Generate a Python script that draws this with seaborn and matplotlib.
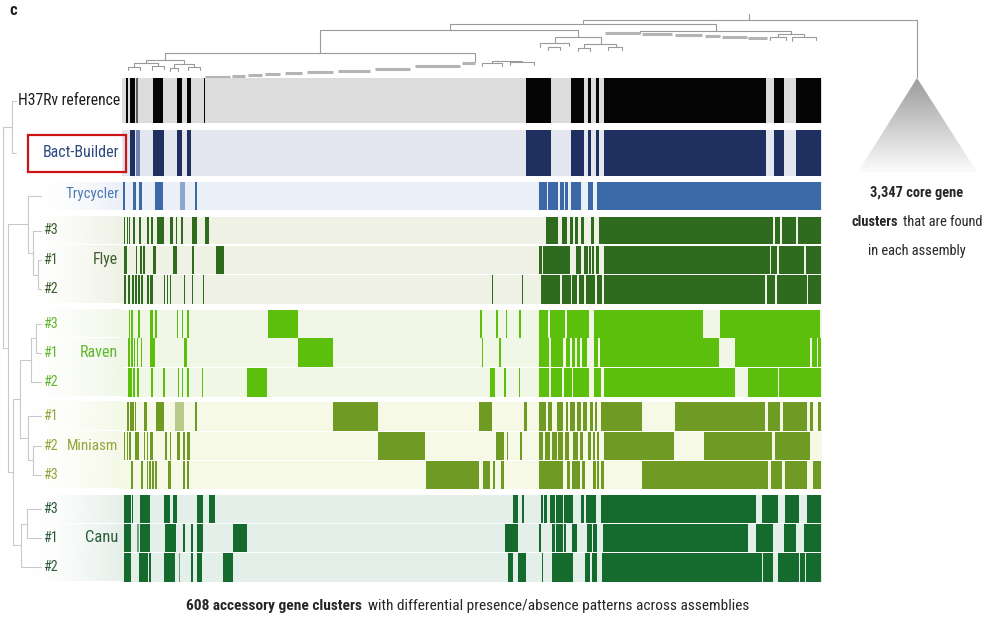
import numpy as np
import pandas as pd
import matplotlib
matplotlib.use("Agg")
import matplotlib.pyplot as plt
import seaborn as sns
from matplotlib.colors import ListedColormap, LinearSegmentedColormap, to_rgb
from matplotlib.patches import Rectangle, Polygon
from matplotlib import font_manager

# ------------------------------------------------------------------ data
N_CLUSTERS = 700  # accessory gene cluster columns (ordered as in the tree)

row_names = ["H37Rv reference", "Bact-Builder", "Trycycler",
             "Flye #3", "Flye #1", "Flye #2",
             "Raven #3", "Raven #1", "Raven #2",
             "Miniasm #1", "Miniasm #2", "Miniasm #3",
             "Canu #3", "Canu #1", "Canu #2"]
row_groups = (["H37Rv", "Bact-Builder", "Trycycler"] + ["Flye"] * 3 +
              ["Raven"] * 3 + ["Miniasm"] * 3 + ["Canu"] * 3)
replicate = ["", "", "", "#3", "#1", "#2", "#3", "#1", "#2",
             "#1", "#2", "#3", "#3", "#1", "#2"]

# presence runs (first cluster, last cluster + 1[, 2 = partial])
pres_h37rv = [(4, 6), (8, 13), (14, 16, 2), (31, 41), (55, 60), (65, 69), (82, 83),
              (404, 429), (449, 462), (466, 469), (474, 477), (482, 644), (652, 662), (674, 699)]
pres_bact = [(8, 13), (14, 18, 2), (31, 42), (55, 60), (65, 69),
             (404, 429), (449, 462), (466, 469), (474, 477), (482, 644), (652, 662), (674, 699)]
pres_tryc = [(1, 3), (11, 14), (17, 20), (33, 41), (58, 63, 2), (73, 75),
             (417, 425), (426, 436), (438, 442), (443, 446), (449, 459), (466, 471), (475, 699)]
pres_flye3 = [(2, 3), (5, 6), (7, 8), (11, 13), (17, 19), (25, 27), (29, 31), (35, 42),
              (48, 51), (54, 55), (59, 61), (70, 75), (83, 87),
              (424, 436), (440, 445), (448, 451), (453, 456), (459, 462), (469, 472),
              (477, 651), (653, 658), (660, 674), (676, 699)]
pres_flye1 = [(2, 5), (14, 15), (18, 20), (21, 23), (31, 34), (51, 55), (70, 72), (94, 102),
              (417, 420), (421, 448), (454, 459), (462, 466), (467, 469), (470, 472),
              (474, 477), (482, 648), (649, 655), (657, 682), (684, 699)]
pres_flye2 = [(2, 4), (6, 8), (10, 12), (13, 15), (16, 18), (19, 21), (25, 27), (28, 31),
              (42, 43), (45, 46), (48, 49), (62, 63), (70, 71), (81, 82),
              (370, 371), (400, 401),
              (419, 438), (440, 449), (450, 455), (457, 462), (464, 473), (475, 480),
              (482, 643), (645, 653), (655, 685), (686, 699)]
pres_raven3 = [(7, 8), (9, 11), (16, 18), (28, 31), (33, 35), (55, 56), (60, 61), (65, 67),
               (146, 176),
               (358, 360), (374, 376), (384, 385), (397, 399),
               (417, 426), (428, 443), (445, 467), (472, 581), (598, 698)]
pres_raven1 = [(6, 8), (9, 11), (12, 13), (15, 16), (19, 20), (28, 33), (62, 65),
               (176, 211),
               (360, 361), (377, 379),
               (417, 427), (429, 441), (444, 448), (450, 453), (455, 458), (460, 465),
               (472, 476), (478, 597), (613, 688), (690, 695), (696, 699)]
pres_raven2 = [(6, 10), (11, 13), (15, 17), (29, 31), (41, 43), (56, 57), (60, 61), (65, 67),
               (80, 81), (125, 145),
               (368, 373), (382, 384), (397, 398),
               (417, 427), (429, 440), (442, 450), (451, 467), (472, 479), (482, 613),
               (626, 656), (657, 699)]
pres_mini1 = [(5, 7), (8, 12), (13, 14), (22, 25), (34, 42), (53, 62, 2), (73, 75),
              (211, 256),
              (357, 370), (402, 405),
              (417, 424), (426, 430), (435, 441), (444, 446), (448, 453), (455, 459),
              (461, 465), (468, 471), (473, 475), (479, 520), (553, 643), (646, 658),
              (661, 685), (688, 691), (696, 699)]
pres_mini2 = [(2, 3), (5, 6), (7, 9), (13, 17), (22, 23), (25, 26), (28, 31), (43, 45),
              (48, 49), (55, 58), (61, 63), (65, 68),
              (256, 303),
              (374, 382), (385, 386), (398, 400),
              (417, 421), (423, 428), (430, 435), (436, 441), (443, 447), (451, 456),
              (458, 461), (466, 469), (471, 473), (475, 477), (482, 552), (582, 650),
              (653, 688)]
pres_mini3 = [(9, 11), (19, 21), (25, 26), (27, 29), (30, 32), (33, 35), (46, 49),
              (61, 63), (65, 67),
              (304, 357),
              (361, 368), (371, 373), (379, 382),
              (417, 441), (445, 448), (450, 458), (460, 463), (471, 474), (475, 477),
              (479, 482), (520, 646), (649, 660), (663, 685), (691, 699)]
pres_canu3 = [(2, 9), (10, 11), (18, 28), (42, 48), (51, 55), (75, 81), (87, 93),
              (391, 396), (400, 402),
              (419, 421), (422, 425), (428, 433), (434, 441), (442, 451), (459, 462),
              (464, 474), (479, 634), (640, 656), (663, 677), (685, 699)]
pres_canu1 = [(2, 9), (15, 17, 2), (18, 28), (43, 54), (61, 63), (69, 71), (75, 81),
              (111, 125),
              (383, 396),
              (417, 419), (430, 433), (434, 441), (442, 444), (450, 455), (465, 470),
              (471, 475), (481, 626), (634, 651), (662, 674), (682, 699)]
pres_canu2 = [(2, 9), (17, 26), (27, 29), (42, 53), (57, 58, 2), (69, 71), (75, 80),
              (101, 111),
              (386, 391), (396, 404),
              (420, 421), (430, 451), (463, 468), (470, 475), (480, 640), (641, 651),
              (656, 677), (678, 683), (684, 699)]

presence = [pres_h37rv, pres_bact, pres_tryc, pres_flye3, pres_flye1, pres_flye2,
            pres_raven3, pres_raven1, pres_raven2, pres_mini1, pres_mini2, pres_mini3,
            pres_canu3, pres_canu1, pres_canu2]

n_accessory = 608
n_core = 3347

# column-clustering tree: (left x, right x, merge height, left child h, right child h)
col_tree = [(461, 795, 58, 54, 0),
            (328, 594, 54, 48, 47),
            (198, 456, 48, 25, 41),
            (518, 669, 47, 45, 44),
            (43, 353, 25, 18, 16),
            (433, 479, 41, 35, 34),
            (24, 62, 18, 15, 14), (12, 36, 15, 11, 12), (52, 72, 14, 10, 11),
            (6, 18, 11, 8, 8), (30, 42, 12, 8, 9), (48, 56, 10, 7, 7), (66, 78, 11, 8, 8),
            (418, 447, 35, 31, 32), (462, 494, 34, 30, 31), (426, 438, 31, 28, 28),
            (456, 468, 30, 27, 27), (486, 500, 31, 28, 28),
            (656, 682, 44, 41, 41), (648, 664, 41, 38, 38), (670, 694, 41, 37, 38),
            (360, 380, 15, 12, 12), (388, 412, 16, 13, 13), (370, 400, 17, 15, 16)]
# runs of densely packed small subtrees (start x, end x, height)
col_tree_runs = [(83, 108, 1.5), (110, 123, 2.5), (126, 140, 3.2), (143, 158, 4.0),
                 (163, 180, 5.0), (185, 211, 6.0), (216, 248, 7.5), (253, 288, 9.5),
                 (293, 338, 12.0), (340, 353, 15.5),
                 (483, 518, 45.5), (520, 550, 44.5), (553, 580, 43.5), (583, 598, 42.5),
                 (600, 625, 41.2), (626, 645, 40.5)]

# row-clustering tree: (node, child a, child b, depth)
row_tree = [("f12", "Flye #1", "Flye #2", 38), ("f", "Flye #3", "f12", 33),
            ("tf", "Trycycler", "f", 28),
            ("r31", "Raven #3", "Raven #1", 36), ("r", "r31", "Raven #2", 31),
            ("m23", "Miniasm #2", "Miniasm #3", 33), ("m", "Miniasm #1", "m23", 28),
            ("rm", "r", "m", 20),
            ("c31", "Canu #3", "Canu #1", 27), ("c", "c31", "Canu #2", 21),
            ("rmc", "rm", "c", 13), ("all_lr", "tf", "rmc", 8),
            ("hb", "H37Rv reference", "Bact-Builder", 12), ("root", "hb", "all_lr", 3)]

# ------------------------------------------------------------------ style
group_bg = {"H37Rv": "#dddcdc", "Bact-Builder": "#e3e6ef", "Trycycler": "#ebeff8",
            "Flye": "#eef1e4", "Raven": "#f0f7e7", "Miniasm": "#f5f9e6", "Canu": "#e5efe9"}
group_fg = {"H37Rv": "#050505", "Bact-Builder": "#1f2f5f", "Trycycler": "#3b69a7",
            "Flye": "#2f6b1f", "Raven": "#5bbf0c", "Miniasm": "#6f9b24", "Canu": "#156b2e"}
group_faint = {"H37Rv": "#5c5c5c", "Bact-Builder": "#6f83ad", "Trycycler": "#8ba7cf",
               "Flye": "#6f9a5a", "Raven": "#9bd66a", "Miniasm": "#b8c98a", "Canu": "#6f9f80"}
group_txt = {"H37Rv": "#1c1c1c", "Bact-Builder": "#2f4a80", "Trycycler": "#4a79b6",
             "Flye": "#3d5d2c", "Raven": "#5fb82c", "Miniasm": "#93a63c", "Canu": "#2b5d3b"}

# pixel layout of the rows (top, bottom)
row_top = [78, 130, 182, 216.5, 245.5, 275, 309.5, 338.5, 368, 402, 431.5, 461, 495, 524, 553]
row_bot = [123, 175.5, 210, 244.5, 274, 303.5, 337.5, 367, 396.5, 430.5, 460, 488.5, 523, 552, 581.5]
W, H = 984, 617
HM_LEFT, HM_RIGHT = 122, 822

sns.set_theme(style="white")


def pick_family(cands):
    for c in cands:
        try:
            font_manager.findfont(font_manager.FontProperties(family=c), fallback_to_default=False)
            return c
        except Exception:
            continue
    return "DejaVu Sans"


main_family = pick_family(["Roboto Condensed", "Liberation Sans Narrow", "Open Sans Condensed",
                           "Noto Sans Condensed", "Liberation Sans"])
plt.rcParams["font.family"] = [main_family, "DejaVu Sans"]

fig = plt.figure(figsize=(W / 100, H / 100), dpi=100)
fig.patch.set_facecolor("white")


def fbox(x0, y0, x1, y1):
    return [x0 / W, 1 - y1 / H, (x1 - x0) / W, (y1 - y0) / H]


# overlay axes in pixel coordinates for annotations
ax_ov = fig.add_axes([0, 0, 1, 1], zorder=5)
ax_ov.set_facecolor("none")
ax_ov.set_axis_off()
ax_ov.set_xlim(0, W)
ax_ov.set_ylim(H, 0)

# ---------------- rows as one-row heatmaps
for i, name in enumerate(row_names):
    g = row_groups[i]
    vec = np.zeros(N_CLUSTERS, dtype=int)
    for seg in presence[i]:
        lvl = seg[2] if len(seg) > 2 else 1
        vec[seg[0]:seg[1]] = lvl
    df = pd.DataFrame([vec], index=[name])
    ax = fig.add_axes(fbox(HM_LEFT, row_top[i], HM_RIGHT, row_bot[i]), zorder=2)
    sns.heatmap(df, ax=ax, cmap=ListedColormap([group_bg[g], group_fg[g], group_faint[g]]),
                vmin=-0.5, vmax=2.5, cbar=False, xticklabels=False, yticklabels=False)
    ax.set_axis_off()

    # fading background behind the labels of assembler groups
    if g not in ("H37Rv", "Bact-Builder"):
        x0 = 40 if g == "Trycycler" else 28
        t = np.linspace(0, 1, 200)
        rgba = np.zeros((1, 200, 4))
        rgba[0, :, :3] = to_rgb(group_bg[g])
        rgba[0, :, 3] = t ** 1.6
        ax_ov.imshow(rgba, extent=(x0, HM_LEFT, row_bot[i], row_top[i]),
                     aspect="auto", zorder=0, interpolation="bilinear")

fig.canvas.draw()
rend = fig.canvas.get_renderer()


def fit(txt, width):
    """scale a text's font size so that it spans about `width` pixels"""
    w = txt.get_window_extent(rend).width
    txt.set_fontsize(txt.get_fontsize() * width / w)
    return txt


# ---------------- labels
centers = {n: (row_top[i] + row_bot[i]) / 2 for i, n in enumerate(row_names)}
lab_fs = 12
fit(ax_ov.text(120, centers["H37Rv reference"], "H37Rv reference", ha="right", va="center",
               fontsize=lab_fs, color=group_txt["H37Rv"]), 102)
fit(ax_ov.text(119, centers["Bact-Builder"], "Bact-Builder", ha="right", va="center",
               fontsize=lab_fs, color=group_txt["Bact-Builder"]), 76)
fit(ax_ov.text(119, centers["Trycycler"] - 2, "Trycycler", ha="right", va="center",
               fontsize=lab_fs, color=group_txt["Trycycler"]), 53)
group_label_w = {"Flye": 25, "Raven": 38, "Miniasm": 51, "Canu": 33}
for g in ["Flye", "Raven", "Miniasm", "Canu"]:
    idx = [i for i, gg in enumerate(row_groups) if gg == g]
    mid = centers[row_names[idx[1]]]
    fit(ax_ov.text(118, mid, g, ha="right", va="center", fontsize=lab_fs, color=group_txt[g]),
        group_label_w[g])
    for i in idx:
        fit(ax_ov.text(43, centers[row_names[i]], replicate[i], ha="left", va="center",
                       fontsize=lab_fs, color=group_txt[g]), 14.5)

# red highlight box
ax_ov.add_patch(Rectangle((28, 134.5), 98, 37.5, fill=False, edgecolor="#cc1414", lw=1.6, zorder=6))

# ---------------- row dendrogram
node_y = dict(centers)
node_x = {n: (16 if n in ("H37Rv reference", "Bact-Builder") else 41) for n in row_names}
for node, a, b, d in row_tree:
    for ch in (a, b):
        ax_ov.plot([d, node_x[ch]], [node_y[ch], node_y[ch]], color="#c9c9c9", lw=0.8, zorder=1)
    ax_ov.plot([d, d], [node_y[a], node_y[b]], color="#c9c9c9", lw=0.8, zorder=1)
    node_y[node] = (node_y[a] + node_y[b]) / 2
    node_x[node] = d

# ---------------- column dendrogram
ax_top = fig.add_axes(fbox(HM_LEFT, 0, W, 78), zorder=3)
ax_top.set_axis_off()
ax_top.set_xlim(0, W - HM_LEFT)
ax_top.set_ylim(0, 78)
for xl, xr, h, hl, hr in col_tree:
    ax_top.plot([xl, xl, xr, xr], [hl, h, h, hr], color="#9a9a9a", lw=0.8)
ax_top.plot([627, 627], [58, 64], color="#9a9a9a", lw=0.8)
for xs, xe, h in col_tree_runs:
    ax_top.plot([xs, xe], [h, h], color="#b4b4b4", lw=2.2, solid_capstyle="butt")

# core-gene triangle
tri_apex = (917, 78)
tri = Polygon([tri_apex, (858, 172), (977, 172)], closed=True, facecolor="none", edgecolor="none")
ax_ov.add_patch(tri)
grad = np.linspace(0, 1, 120)[:, None]
im = ax_ov.imshow(grad, cmap=LinearSegmentedColormap.from_list("tri", ["#9c9c9c", "#fbfbfb"]),
                  extent=(855, 980, 172, 78), aspect="auto", zorder=1)
im.set_clip_path(tri)


def two_part(y, bold_txt, reg_txt, cx, width=None, fs=12, gap=0.28):
    t1 = ax_ov.text(0, y, bold_txt, fontweight="bold", fontsize=fs, color="#262626",
                    ha="left", va="center")
    t2 = ax_ov.text(0, y, reg_txt, fontsize=fs, color="#262626", ha="left", va="center")
    w1 = t1.get_window_extent(rend).width
    w2 = t2.get_window_extent(rend).width
    g = gap * fs * 100 / 72
    scale = 1.0 if width is None else width / (w1 + w2 + g)
    t1.set_fontsize(fs * scale)
    t2.set_fontsize(fs * scale)
    w1, w2, g = w1 * scale, w2 * scale, g * scale
    x0 = cx - (w1 + g + w2) / 2
    t1.set_x(x0)
    t2.set_x(x0 + w1 + g)
    return fs * scale


# right-hand annotation: one common font size for the three lines
probe1 = fit(ax_ov.text(0, 0, f"{n_core:,} core gene", fontweight="bold", fontsize=12), 107)
probe2 = fit(ax_ov.text(0, 0, "clusters that are found", fontweight="bold", fontsize=12), 121)
fs_core = 0.35 * probe1.get_fontsize() + 0.65 * probe2.get_fontsize()
probe1.remove()
probe2.remove()
ax_ov.text(917, 193, f"{n_core:,} core gene", fontweight="bold", fontsize=fs_core,
           color="#262626", ha="center", va="center")
two_part(222, "clusters", "that are found", 917, fs=fs_core)
ax_ov.text(917, 251, "in each assembly", fontsize=fs_core, color="#262626",
           ha="center", va="center")

two_part(606, f"{n_accessory} accessory gene clusters",
         "with differential presence/absence patterns across assemblies", 468, 563)

ax_ov.text(13, 15, "c", fontweight="bold", fontsize=12, ha="center", va="baseline", color="#222")

ax_ov.set_xlim(0, W)
ax_ov.set_ylim(H, 0)

fig.savefig("out.png", dpi=100, facecolor="white")
